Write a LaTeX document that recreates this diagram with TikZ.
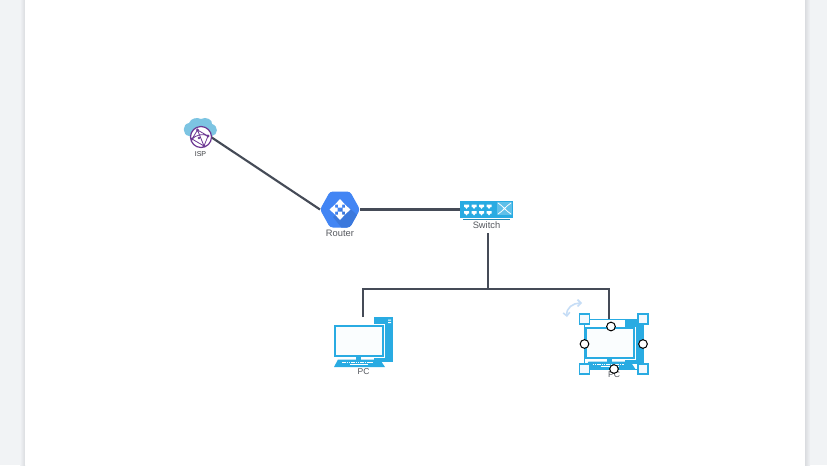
\documentclass[tikz,border=0pt]{standalone}
\usepackage{fontspec}
\setmainfont{Liberation Sans}
\usetikzlibrary{arrows.meta}
\definecolor{pagebg}{HTML}{F1F3F5}
\definecolor{shadowc}{HTML}{DADCE0}
\definecolor{wire}{HTML}{454B57}
\definecolor{pcblue}{HTML}{29ABE2}
\definecolor{cloudc}{HTML}{7CC4E2}
\definecolor{ispv}{HTML}{6E3A94}
\definecolor{routerc}{HTML}{4285F4}
\definecolor{routerd}{HTML}{3B78DC}
\definecolor{labelc}{HTML}{55585E}
\definecolor{handlef}{HTML}{F3F9FE}
\definecolor{rotc}{HTML}{C6DDF6}
\tikzset{
  wireline/.style={draw=wire,line width=1.6pt},
  lbl/.style={text=labelc,inner sep=0pt,font=\fontsize{7}{8}\selectfont},
  anchorbox/.style={inner sep=0pt,outer sep=0pt},
  handlesq/.style={draw=pcblue,fill=handlef,line width=0.9pt,minimum size=7.5pt,inner sep=0pt},
  handlec/.style={circle,draw=black,fill=white,line width=0.75pt,minimum size=6.5pt,inner sep=0pt},
}
\newcommand{\pcicon}[2]{%
\begin{scope}[shift={(#1,#2)}]
  \fill[pcblue] (374,317) rectangle (393,362);
  \fill[white] (388,319.6) rectangle (391,320.6) (388,322) rectangle (391,323);
  \fill[white] (333,323.5) rectangle (385,358);
  \fill[pcblue] (334,324.5) rectangle (384,357);
  \fill[white!60!handlef] (336,326.5) rectangle (382,355);
  \fill[pcblue] (356,357) rectangle (361,359.5);
  \fill[pcblue] (338,359.5) -- (380,359.5) -- (385,367) -- (334,367) -- cycle;
  \draw[white,line width=0.7pt,dash pattern=on 1.2pt off 0.5pt] (342,362) -- (373,362);
  \draw[white,line width=0.6pt] (350,364) -- (368,364);
\end{scope}}
\begin{document}
\begin{tikzpicture}[x=0.75pt,y=-0.75pt]
\useasboundingbox (0,0) rectangle (827,465);
\fill[pagebg] (0,0) rectangle (827,465);
\shade[left color=pagebg,right color=shadowc] (20,0) rectangle (25,465);
\shade[left color=shadowc,right color=pagebg] (805,0) rectangle (810,465);
\fill[white] (25,0) rectangle (805,465);

% anchor nodes
\node[circle,anchorbox,minimum size=15pt] (isp) at (201,137) {};
\node[anchorbox,minimum width=30pt,minimum height=27pt] (router) at (340,209.5) {};
\node[anchorbox,minimum width=39pt,minimum height=12.75pt] (switch) at (486,209.5) {};
\coordinate (swtap) at (488,233);
\coordinate (junction) at (488,289);
\coordinate (pcatop) at (363,317);
\coordinate (pcbtop) at (609,320);

% connectors
\draw[wireline] (isp.east) -- (router.west);
\draw[wireline] (router.east) -- (switch.west);
\draw[wireline] (swtap) -- (junction);
\draw[wireline,line join=miter] (pcatop) |- (junction) -| (pcbtop);

% ISP
\fill[cloudc] (189,136) .. controls (182,135) and (182,124) .. (189,123)
  .. controls (191,118) and (197,117) .. (201,119)
  .. controls (206,116) and (213,120) .. (212,124)
  .. controls (219,126) and (218,135) .. (212,136) -- cycle;
\draw[ispv,line width=0.9pt,fill=white] (201,137) circle[radius=10.5];
\begin{scope}[ispv,line width=0.6pt]
  \draw (197.5,130) -- (208,136) -- (204,146) (197.5,130) -- (192,139) -- (204,146)
        (197.5,130) -- (204,146) (192,139) .. controls (196,135) and (203,133) .. (208,136);
  \fill (197.5,130) circle[radius=1.6] (208,136) circle[radius=1.6] (192,139) circle[radius=1.6] (204,146) circle[radius=1.6] (199,138) circle[radius=1.4];
\end{scope}
\node[lbl,text=labelc!70!black,font=\fontsize{5.3}{6}\selectfont] (isplabel) at (200.5,154) {ISP};

% Router
\fill[routerc,rounded corners=2.2pt] (320,209.5) -- (330,191.5) -- (350,191.5) -- (360,209.5) -- (350,227.5) -- (330,227.5) -- cycle;
\begin{scope}
\clip[rounded corners=2.2pt] (320,209.5) -- (330,191.5) -- (350,191.5) -- (360,209.5) -- (350,227.5) -- (330,227.5) -- cycle;
\fill[routerd] (346,205) -- (365,222) -- (345,232) -- (333,217) -- cycle;
\end{scope}
\fill[white] (340,199) -- (345,204.5) -- (342,204.5) -- (342,207.5) -- (338,207.5) -- (338,204.5) -- (335,204.5) -- cycle;
\fill[white] (340,220) -- (345,214.5) -- (342,214.5) -- (342,211.5) -- (338,211.5) -- (338,214.5) -- (335,214.5) -- cycle;
\fill[white] (329.5,209.5) -- (335,204.5) -- (335,207.5) -- (337.5,207.5) -- (337.5,211.5) -- (335,211.5) -- (335,214.5) -- cycle;
\fill[white] (350.5,209.5) -- (345,204.5) -- (345,207.5) -- (342.5,207.5) -- (342.5,211.5) -- (345,211.5) -- (345,214.5) -- cycle;
\node[lbl] (routerlabel) at (340,233.5) {Router};

% Switch
\fill[pcblue] (460,201) rectangle (512.5,218);
\fill[pcblue!75!white] (497,202) rectangle (512,215);
\draw[white,line width=0.6pt] (498,203) .. controls (503,206) and (506,211) .. (511,214) (511,203) .. controls (506,206) and (503,211) .. (498,214);
\foreach \px in {466.5,474,481.5,489}{\foreach \py in {204.5,211}{
  \fill[white] (\px-2.5,\py) -- (\px+2.5,\py) -- (\px+2.5,\py+2.5) -- (\px+1.5,\py+2.5) -- (\px,\py+4.5) -- (\px-1.5,\py+2.5) -- (\px-2.5,\py+2.5) -- cycle;
}}
\draw[draw=pcblue!80!black,line width=0.75pt] (463,219) -- (510,219);
\node[lbl] (switchlabel) at (486.5,225) {Switch};

% PC left
\pcicon{0}{0}
\node[lbl,font=\fontsize{6.4}{7}\selectfont] (pcalabel) at (363.5,372) {PC};

% PC right
\pcicon{250.5}{2.2}
\fill[white] (584.5,319) rectangle (625,325);
\fill[pcblue] (625,319) rectangle (643.5,327);
\node[lbl,font=\fontsize{6.4}{7}\selectfont] (pcblabel) at (614,375) {PC};

% Selection
\draw[pcblue,line width=0.6pt] (584.5,319) rectangle (643,369);
\node[handlesq] (h1) at (584.5,319) {};
\node[handlesq] (h2) at (643,319) {};
\node[handlesq] (h3) at (584.5,369) {};
\node[handlesq] (h4) at (643,369) {};
\node[handlec] (c1) at (611,326.5) {};
\node[handlec] (c2) at (584.5,344) {};
\node[handlec] (c3) at (643,344) {};
\node[handlec] (c4) at (614,369) {};
\draw[rotc,line width=1.2pt,{Straight Barb[length=2.5pt,width=5pt]}-{Straight Barb[length=2.5pt,width=5pt]}] (567,317) .. controls (566,308) and (573,303) .. (582,303);
\end{tikzpicture}
\end{document}
